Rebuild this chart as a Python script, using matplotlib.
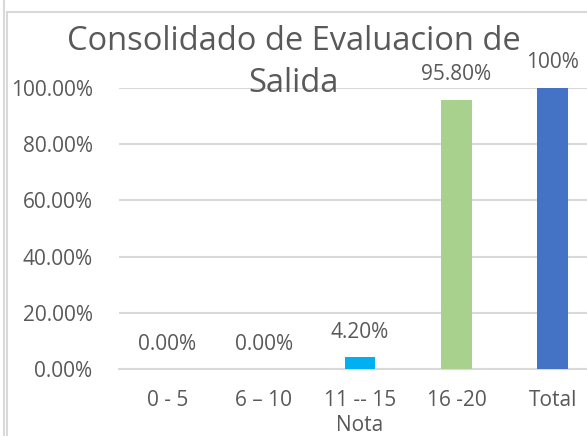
import matplotlib
matplotlib.use("Agg")
import matplotlib.pyplot as plt
from matplotlib.lines import Line2D
from matplotlib.patches import Rectangle

plt.rcParams['font.family'] = ['Open Sans', 'DejaVu Sans']

# datos
categorias = ["0 - 5", "6 – 10", "11 -- 15", "16 -20", "Total"]
valores = [0.0, 0.0, 4.2, 95.8, 100.0]
etiquetas = ["0.00%", "0.00%", "4.20%", "95.80%", "100%"]
colores = ["#ED7D31", "#FFC000", "#00B0F0", "#A9D18E", "#4472C4"]
ticks_y = [0, 20, 40, 60, 80, 100]
titulo = ["Consolidado de Evaluacion de", "Salida"]

gris = "#595959"

fig = plt.figure(figsize=(5.87, 4.36), dpi=100)

# bordes de la hoja / grafico
fig.add_artist(Line2D([4/587, 4/587], [0, 1], color="#D9D9D9", lw=1.5))
fig.add_artist(Rectangle((7/587, -0.1), 1.2, 1 - 12/436 + 0.1, fill=False,
                         edgecolor="#D9D9D9", lw=1.5))

ax = fig.add_axes([119/587, 67/436, 482/587, 281/436])
x = range(len(categorias))
barras = ax.bar(x, valores, width=0.32, color=colores, zorder=3)

for b, txt in zip(barras, etiquetas):
    ax.annotate(txt, (b.get_x() + b.get_width()/2, b.get_height()),
                xytext=(0, 18), textcoords="offset points",
                ha="center", va="center", fontsize=15, color=gris)

ax.set_xlim(-0.5, len(categorias) - 0.5)
ax.set_ylim(0, 100)
ax.set_yticks(ticks_y)
ax.set_yticklabels(["%.2f%%" % v for v in ticks_y])
ax.set_xticks(list(x))
ax.set_xticklabels(categorias)
ax.tick_params(axis="both", length=0, labelsize=15, labelcolor=gris)
ax.tick_params(axis="x", pad=15)
ax.tick_params(axis="y", pad=19)
ax.grid(axis="y", color="#D9D9D9", lw=1.5, zorder=0)
for s in ["top", "right", "left"]:
    ax.spines[s].set_visible(False)
ax.spines["bottom"].set_color("#D9D9D9")
ax.spines["bottom"].set_linewidth(1.5)
ax.set_xlabel("Nota", fontsize=15, color=gris, labelpad=3)

# titulo en dos lineas
fig.text(294/587, 1 - 41/436, titulo[0], ha="center", va="center",
         fontsize=23.5, color=gris)
fig.text(294/587, 1 - 84/436, titulo[1], ha="center", va="center",
         fontsize=23.5, color=gris)

fig.savefig("out.png", dpi=100)
